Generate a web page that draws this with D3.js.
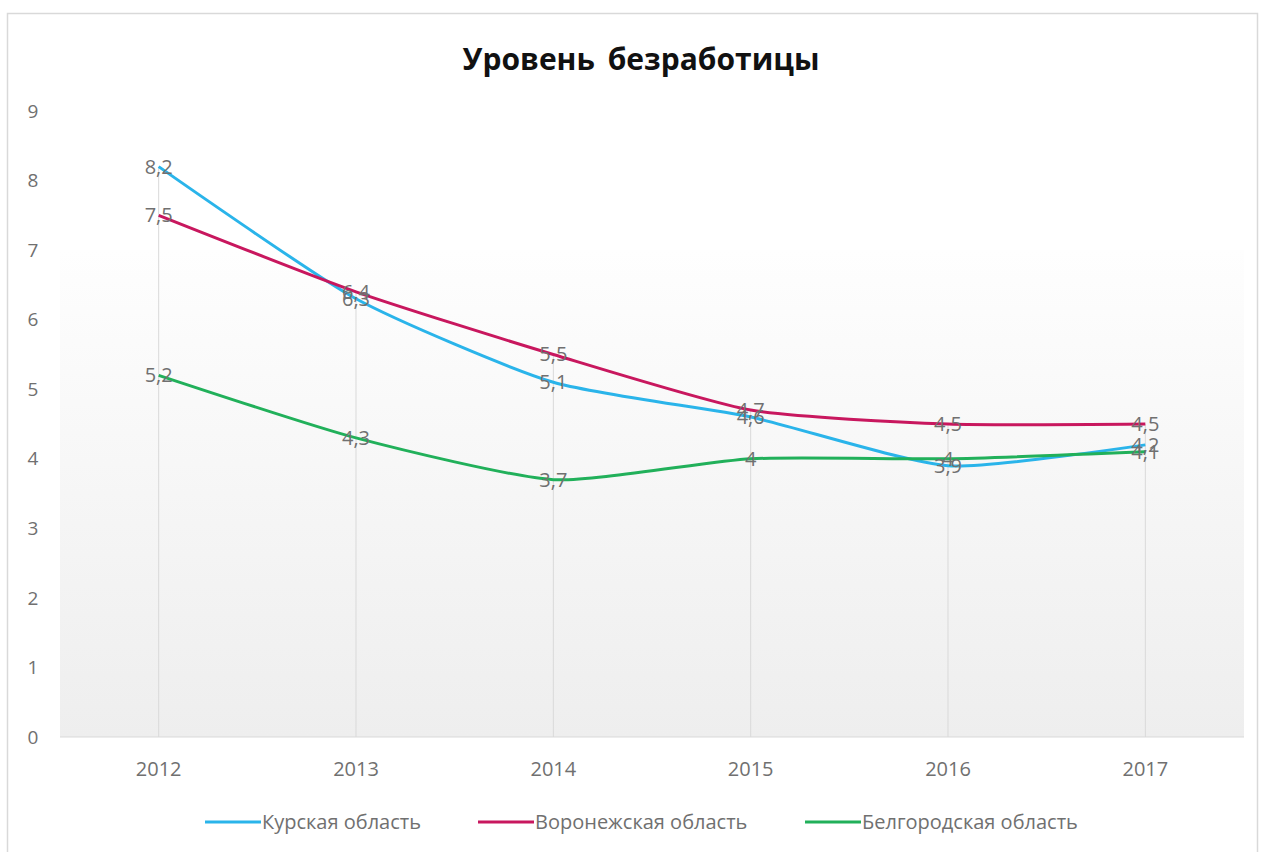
<!DOCTYPE html>
<html>
<head>
<meta charset="utf-8">
<script src="https://cdn.jsdelivr.net/npm/d3@7"></script>
<style>
  body { margin: 0; background: #fff; }
  text { font-family: "Open Sans", "Noto Sans", sans-serif; }
</style>
</head>
<body>
<div id="chart"></div>
<script>
let years = ["2012", "2013", "2014", "2015", "2016", "2017"];
let kursk = [8.2, 6.3, 5.1, 4.6, 3.9, 4.2];
let voronezh = [7.5, 6.4, 5.5, 4.7, 4.5, 4.5];
let belgorod = [5.2, 4.3, 3.7, 4, 4, 4.1];
let seriesNames = ["Курская область", "Воронежская область", "Белгородская область"];
let seriesColors = ["#2ab4ea", "#c8175e", "#21b05a"];
let yTicks = [0, 1, 2, 3, 4, 5, 6, 7, 8, 9];

let W = 1264, H = 852;

let svg = d3.select("#chart").append("svg")
    .attr("width", W)
    .attr("height", H);

// chart border
svg.append("rect")
    .attr("x", 7.5).attr("y", 13.5)
    .attr("width", 1250).attr("height", 845)
    .attr("fill", "#fff")
    .attr("stroke", "#d9d9d9")
    .attr("stroke-width", 1.5);

let x = d3.scaleBand()
    .domain(years)
    .range([60, 1244]);

let y = d3.scaleLinear()
    .domain([0, 9])
    .range([737, 111]);

let cx = d => x(d) + x.bandwidth() / 2;

// plot area gradient
let defs = svg.append("defs");
let grad = defs.append("linearGradient")
    .attr("id", "plotGrad")
    .attr("x1", 0).attr("y1", 0).attr("x2", 0).attr("y2", 1);
grad.append("stop").attr("offset", "0%").attr("stop-color", "#fefefe");
grad.append("stop").attr("offset", "100%").attr("stop-color", "#eeeeee");

svg.append("rect")
    .attr("x", 60).attr("y", y(7))
    .attr("width", 1184).attr("height", y(0) - y(7))
    .attr("fill", "url(#plotGrad)");

// title
svg.append("text")
    .attr("x", 641).attr("y", 70)
    .attr("text-anchor", "middle")
    .style("font-size", "30px")
    .style("font-weight", "bold")
    .style("word-spacing", "5px")
    .style("fill", "#111")
    .text("Уровень безработицы");

let allSeries = [kursk, voronezh, belgorod].map((vals, i) => ({
    name: seriesNames[i],
    color: seriesColors[i],
    values: years.map((yr, j) => ({year: yr, value: vals[j]}))
}));

// drop lines
svg.append("g").selectAll("line")
    .data(years)
    .join("line")
    .attr("x1", d => cx(d)).attr("x2", d => cx(d))
    .attr("y1", y(0))
    .attr("y2", (d, j) => y(d3.max([kursk[j], voronezh[j], belgorod[j]])))
    .attr("stroke", "#d9d9d9")
    .attr("stroke-width", 1);

// x axis baseline
svg.append("line")
    .attr("x1", 60).attr("x2", 1244)
    .attr("y1", y(0)).attr("y2", y(0))
    .attr("stroke", "#d9d9d9");

// y tick labels
svg.append("g").selectAll("text")
    .data(yTicks)
    .join("text")
    .attr("x", 33).attr("y", d => y(d))
    .attr("dy", "0.35em")
    .attr("text-anchor", "middle")
    .style("font-size", "19px")
    .style("fill", "#707070")
    .text(d => d);

// x tick labels
svg.append("g").selectAll("text")
    .data(years)
    .join("text")
    .attr("x", d => cx(d)).attr("y", 769)
    .attr("dy", "0.35em")
    .attr("text-anchor", "middle")
    .style("font-size", "20px")
    .style("fill", "#707070")
    .text(d => d);

let line = d3.line()
    .x(d => cx(d.year))
    .y(d => y(d.value))
    .curve(d3.curveCardinal.tension(0.4));

svg.append("g").selectAll("path")
    .data(allSeries)
    .join("path")
    .attr("d", d => line(d.values))
    .attr("fill", "none")
    .attr("stroke", d => d.color)
    .attr("stroke-width", 3);

// data labels
let fmt = v => String(v).replace(".", ",");
allSeries.forEach(s => {
    svg.append("g").selectAll("text")
        .data(s.values)
        .join("text")
        .attr("x", d => cx(d.year))
        .attr("y", d => y(d.value))
        .attr("dy", "0.35em")
        .attr("text-anchor", "middle")
        .style("font-size", "20px")
        .style("fill", "#707070")
        .text(d => fmt(d.value));
});

// legend
let legendX = [205, 478, 805];
let legend = svg.append("g").selectAll("g")
    .data(allSeries)
    .join("g")
    .attr("transform", (d, i) => "translate(" + legendX[i] + ",822)");
legend.append("line")
    .attr("x1", 0).attr("x2", 56)
    .attr("stroke", d => d.color)
    .attr("stroke-width", 3);
legend.append("text")
    .attr("x", 57).attr("dy", "0.35em")
    .style("font-size", "20px")
    .style("fill", "#707070")
    .text(d => d.name);
</script>
</body>
</html>
